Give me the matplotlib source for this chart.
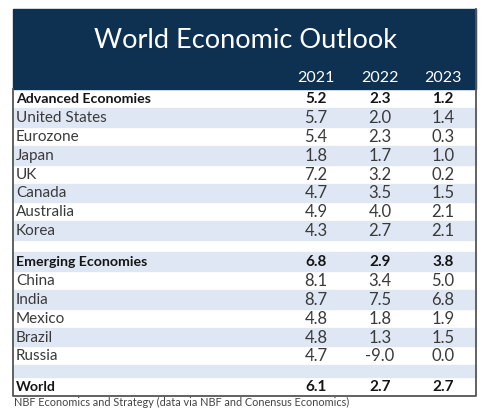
import matplotlib.pyplot as plt
from matplotlib.patches import Rectangle

title = "World Economic Outlook"
years = ["2021", "2022", "2023"]
labels = ["Advanced Economies", "United States", "Eurozone", "Japan", "UK",
          "Canada", "Australia", "Korea", "",
          "Emerging Economies", "China", "India", "Mexico", "Brazil", "Russia", "",
          "World"]
v2021 = ["5.2", "5.7", "5.4", "1.8", "7.2", "4.7", "4.9", "4.3", "",
         "6.8", "8.1", "8.7", "4.8", "4.8", "4.7", "", "6.1"]
v2022 = ["2.3", "2.0", "2.3", "1.7", "3.2", "3.5", "4.0", "2.7", "",
         "2.9", "3.4", "7.5", "1.8", "1.3", "-9.0", "", "2.7"]
v2023 = ["1.2", "1.4", "0.3", "1.0", "0.2", "1.5", "2.1", "2.1", "",
         "3.8", "5.0", "6.8", "1.9", "1.5", "0.0", "", "2.7"]
bold_rows = ["Advanced Economies", "Emerging Economies", "World"]
source = "NBF Economics and Strategy (data via NBF and Conensus Economics)"

navy = "#0e3152"
stripe = "#dfe7f4"
font = "Lato"

fig = plt.figure(figsize=(4.9, 4.15), dpi=100)
ax = fig.add_axes([0, 0, 1, 1])
ax.set_xlim(0, 490)
ax.set_ylim(415, 0)
ax.axis("off")

left, right = 13, 476
top, head_bottom = 9.5, 89

# header block
ax.add_patch(Rectangle((left, top), right - left, head_bottom - top, color=navy, zorder=1))
ax.text((left + right) / 2 + 1, 40, title, color="white", fontsize=19.5,
        ha="center", va="center", family=font)
col_x = [316, 380, 443]
for x, yr in zip(col_x, years):
    ax.text(x, 78, yr, color="white", fontsize=11.5, ha="center", va="center", family=font)

# rows
row_h = 18.9
gap_h = 11.8
y = head_bottom
for i, lab in enumerate(labels):
    h = gap_h if lab == "" else row_h
    if i % 2 == 1:
        ax.add_patch(Rectangle((left, y), right - left, h, color=stripe, zorder=1))
    if lab:
        bold = lab in bold_rows
        w = "bold" if bold else "normal"
        c = "#151515" if bold else "#3a3a3a"
        fs = 10.2 if bold else 11
        yc = y + h / 2 + 0.5
        ax.text(16, yc, lab, fontsize=fs, ha="left", va="center", family=font,
                weight=w, color=c)
        for x, vals in zip(col_x, [v2021, v2022, v2023]):
            ax.text(x, yc, vals[i], fontsize=11 if bold else 12, ha="center",
                    va="center", family=font, weight=w, color=c)
    y += h

# border
ax.plot([left, left, right, right], [head_bottom, y, y, top], color="#555555",
        lw=1.3, zorder=3)

ax.text(14, 402, source, fontsize=7.8, ha="left", va="center", family=font, color="#444444")

fig.savefig("out.png", dpi=100)
